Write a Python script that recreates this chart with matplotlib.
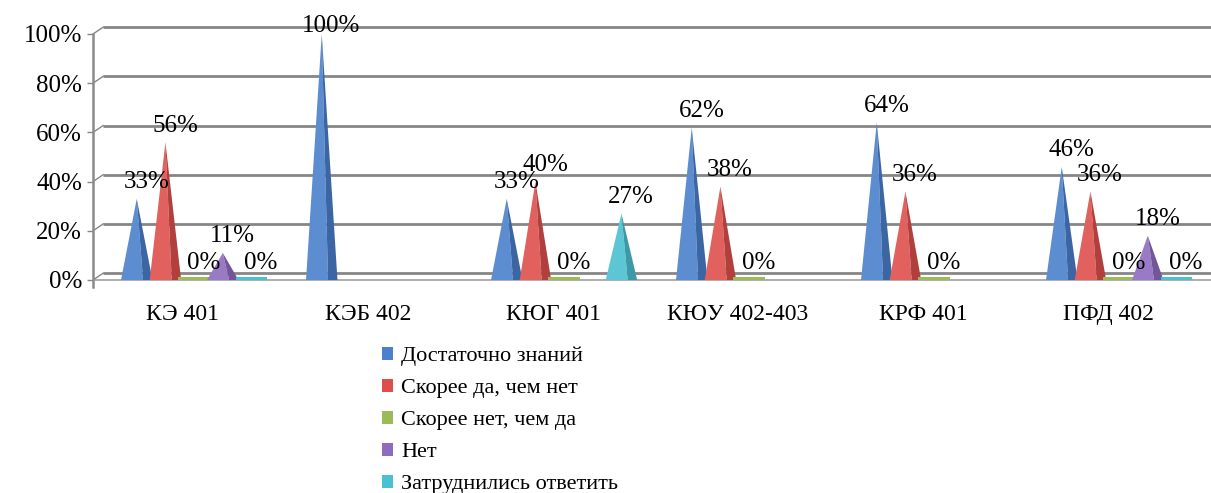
import numpy as np
import matplotlib.pyplot as plt
from matplotlib.patches import Patch, Rectangle
from matplotlib.colors import to_rgb

# --- Data ---
categories = ['КЭ 401', 'КЭБ 402', 'КЮГ 401', 'КЮУ 402-403', 'КРФ 401', 'ПФД 402']
series_names = ['Достаточно знаний', 'Скорее да, чем нет', 'Скорее нет, чем да',
                'Нет', 'Затруднились ответить']
dostatochno = [33, 100, 33, 62, 64, 46]
skoree_da = [56, None, 40, 38, 36, 36]
skoree_net = [0, None, 0, 0, 0, 0]
net = [11, None, None, None, None, 18]
zatrudnilis = [0, None, 27, None, None, 0]
y_ticks = [0, 20, 40, 60, 80, 100]

series = [dostatochno, skoree_da, skoree_net, net, zatrudnilis]
colors = ['#4A80CC', '#DD4F4C', '#9BBB59', '#8E6BBF', '#4BC0D0']

plt.rcParams['font.family'] = ['Liberation Serif', 'DejaVu Serif']

W, H = 1211, 493
fig = plt.figure(figsize=(W / 100, H / 100), dpi=100)

# axes: y=0 at px 280, y=100 at px 34
ppu = (280 - 34) / 100
ax_top, ax_bot = 20, 287
ylo = -(ax_bot - 280) / ppu
yhi = 100 + (34 - ax_top) / ppu
ax = fig.add_axes([93 / W, 1 - ax_bot / H, (W - 93) / W, (ax_bot - ax_top) / H])
xlo, xhi = (93 - 183) / 185, (W - 183) / 185
ax.set_xlim(xlo, xhi)
ax.set_ylim(ylo, yhi)

for s in ['top', 'right', 'bottom']:
    ax.spines[s].set_visible(False)
ax.spines['left'].set_color('#8a8a8a')
ax.spines['left'].set_linewidth(1.8)
ax.spines['left'].set_bounds(ylo, 100)

# back wall gridlines with a little 3D depth
dx, dy = 0.055, 2.8
grid_c = '#868686'
for v in y_ticks:
    ax.plot([xlo + dx, xhi], [v + dy, v + dy], color=grid_c, lw=2.0, zorder=1,
            solid_capstyle='butt')
    ax.plot([xlo, xlo + dx], [v, v + dy], color=grid_c, lw=1.0, zorder=1)
# floor front edge
ax.plot([xlo, xhi], [0, 0], color='#a0a0a0', lw=1.2, zorder=1)

ax.set_yticks(y_ticks)
ax.set_yticklabels([f'{v}%' for v in y_ticks], fontsize=18)
ax.tick_params(axis='y', length=4, width=1, color=grid_c, pad=4)
ax.set_xticks(range(len(categories)))
ax.set_xticklabels(categories, fontsize=17)
ax.tick_params(axis='x', length=0, pad=12)


def shade(c, f):
    r, g, b = to_rgb(c)
    if f > 1:
        return tuple(x + (1 - x) * (f - 1) for x in (r, g, b))
    return tuple(x * f for x in (r, g, b))


spacing = 0.155
width = 0.17
shift = 0.06
for k, (vals, col) in enumerate(zip(series, colors)):
    for i, v in enumerate(vals):
        if v is None:
            continue
        x = i + shift + (k - 2) * spacing
        if v == 0:
            ax.add_patch(Rectangle((x - width / 2, 0), width, 1.3,
                                   color=col, zorder=3, lw=0))
        else:
            xs = x + 0.2 * width
            ax.fill([x - width / 2, x, xs], [0, v, 0], color=shade(col, 1.1),
                    lw=0, zorder=3)
            ax.fill([xs, x, x + width / 2], [0, v, 0], color=shade(col, 0.8),
                    lw=0, zorder=3)
        oy = -2 if v == 100 else 4
        ax.annotate(f'{v}%', (x, v), xytext=(7, oy), textcoords='offset points',
                    ha='center', va='bottom', fontsize=18, color='black',
                    zorder=4, annotation_clip=False)

handles = [Patch(facecolor=c, edgecolor='none') for c in colors]
fig.legend(handles, series_names, loc='upper left',
           bbox_to_anchor=(382 / W, 1 - 347 / H), frameon=False, fontsize=16,
           handlelength=0.5, handleheight=0.5, handletextpad=0.35,
           labelspacing=0.57, borderpad=0, borderaxespad=0)

fig.savefig('out.png', dpi=100)
